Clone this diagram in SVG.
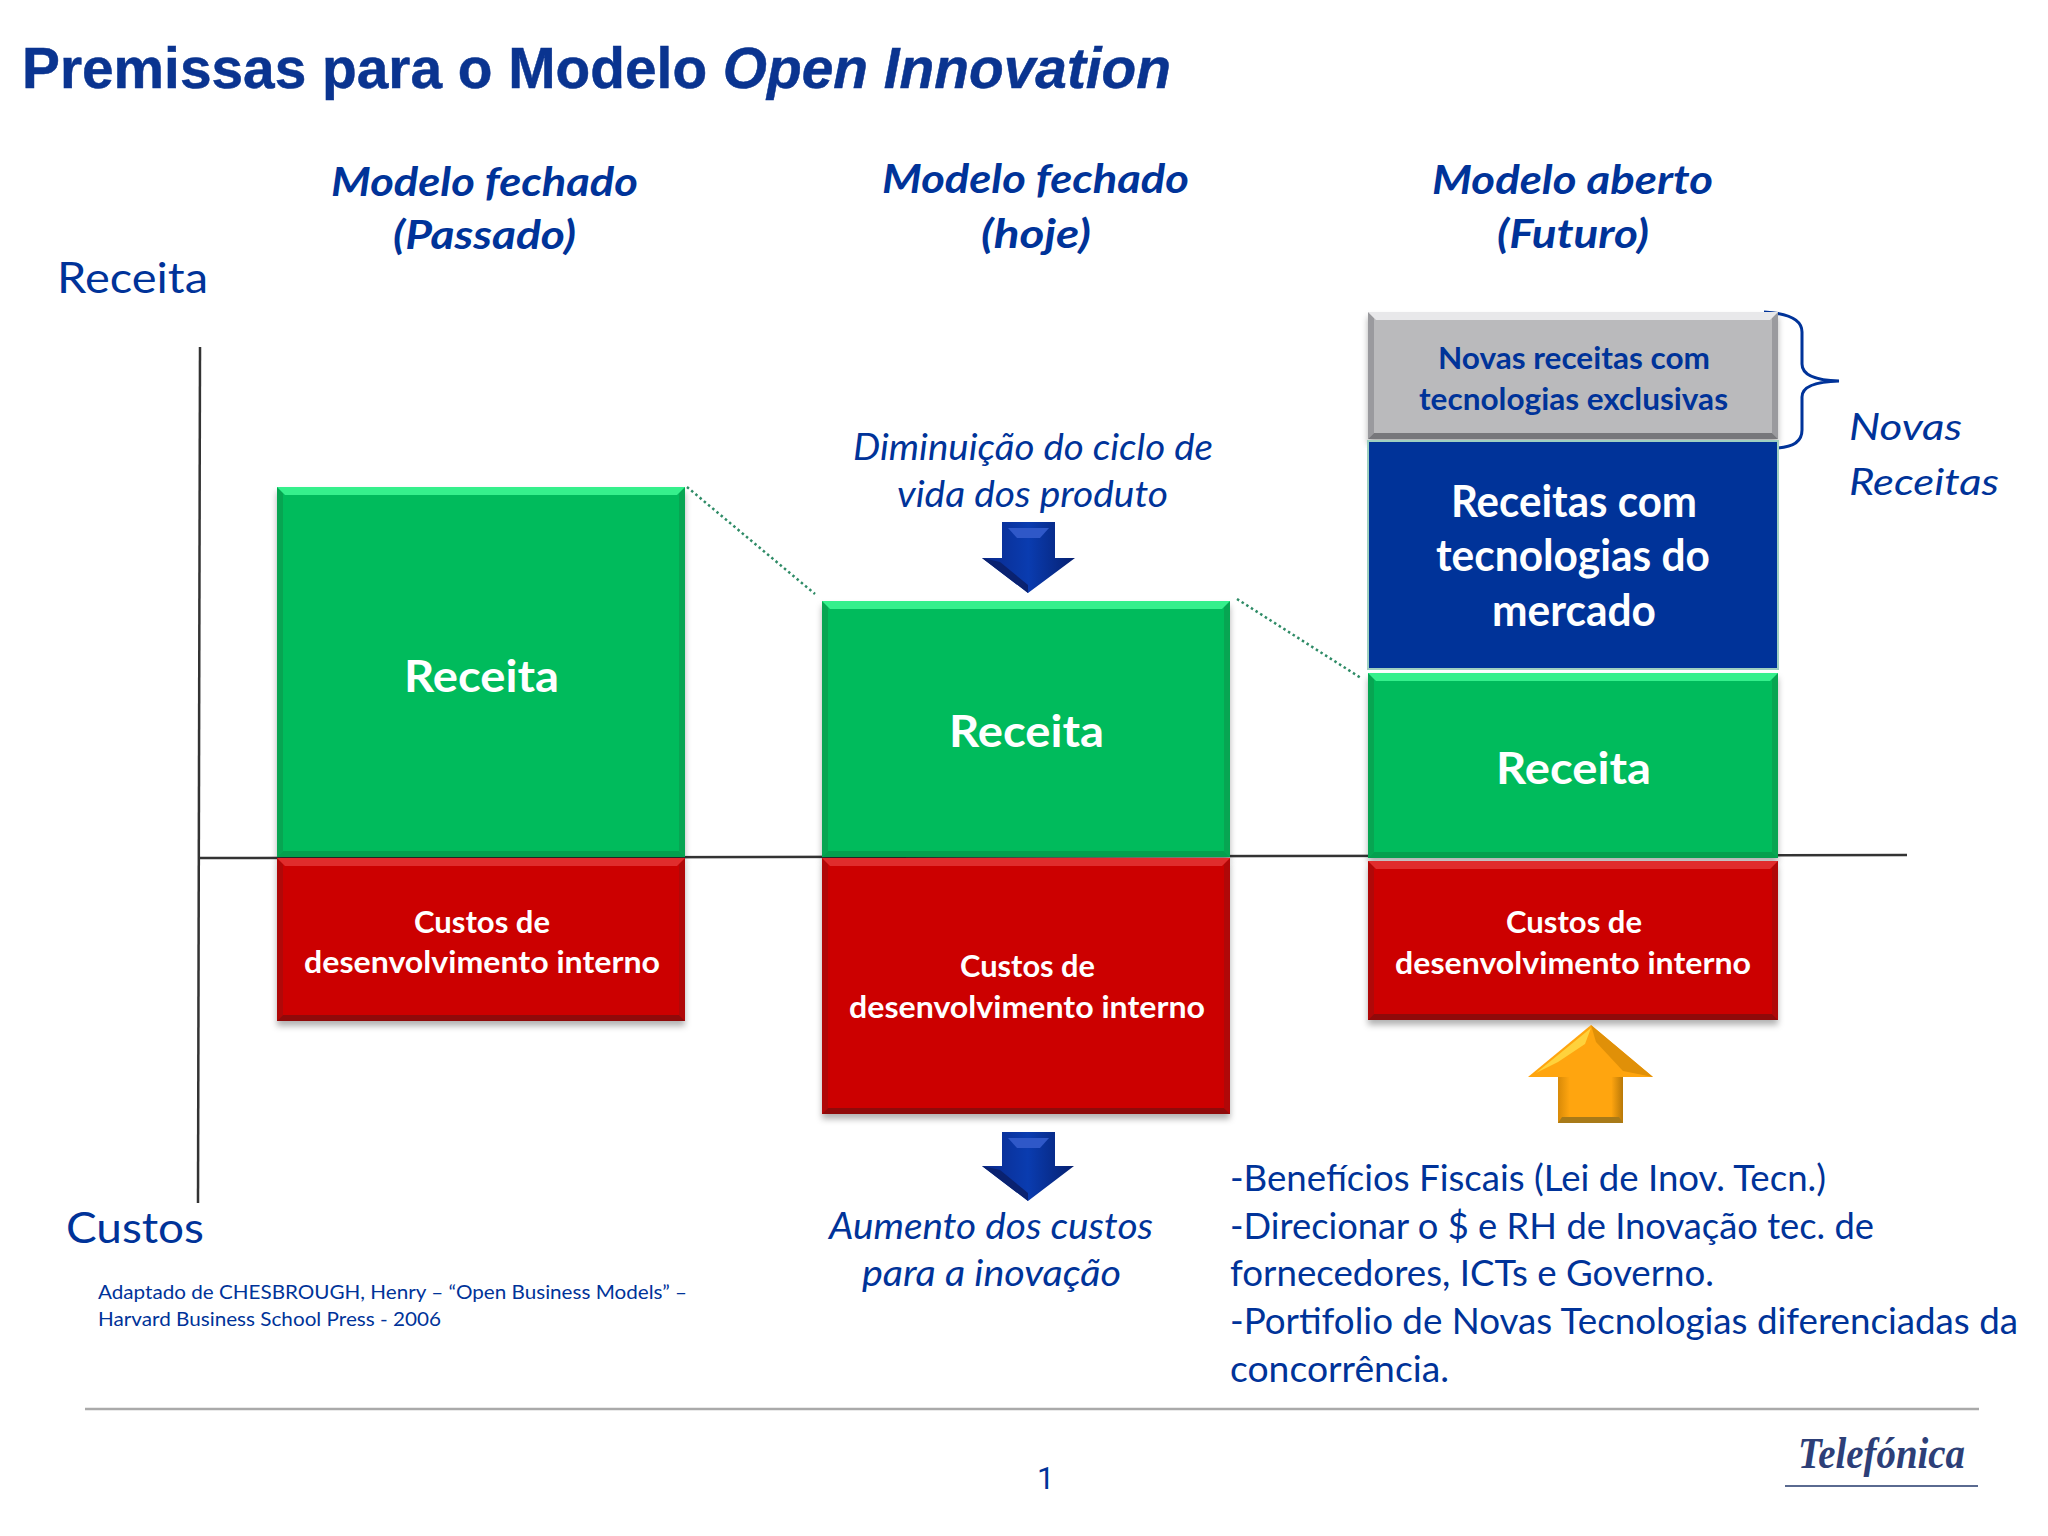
<svg xmlns="http://www.w3.org/2000/svg" width="2048" height="1536" viewBox="0 0 2048 1536">
<defs>
<filter id="sh" x="-5%" y="-5%" width="110%" height="112%"><feDropShadow dx="0" dy="5" stdDeviation="3" flood-color="#000" flood-opacity=".3"/></filter>
<linearGradient id="bl" x1="0" x2="1" y1="0" y2="0"><stop offset="0" stop-color="#0a2a8c"/><stop offset=".5" stop-color="#0a3cb0"/><stop offset="1" stop-color="#062070"/></linearGradient>
<linearGradient id="or" x1="0" x2="1" y1="0" y2="0"><stop offset="0" stop-color="#d88a08"/><stop offset=".18" stop-color="#ffa50f"/><stop offset=".82" stop-color="#ffa50f"/><stop offset="1" stop-color="#b87808"/></linearGradient>
</defs>
<style>
text{font-family:Lato,"Liberation Sans",sans-serif;fill:#003399}
.t{font-family:"Liberation Sans",Arial,sans-serif;font-weight:700;font-size:58px;fill:#0a3490;stroke:#0a3490;stroke-width:.5}
.h{font-weight:700;font-style:italic;font-size:41px}
.a{font-size:42px}
.i{font-style:italic;font-size:37px}
.b{font-size:37px}
.s{font-size:20px}
.w{fill:#fff;font-weight:700}
.r1{font-size:44px}
.r2{font-size:30px}
.g2{font-weight:700;font-size:30px}
.hg{fill:#35f08c}.hr{fill:#e02c2c}.hy{fill:#e8e8ea}
.lg{fill:#04a04e}.lr{fill:#8f0a0a}.ly{fill:#77777b}
.sg{fill:#07a552}.sr{fill:#b00808}.sy{fill:#9a9a9e}
.grn{fill:#06bb5b}.red{fill:#cc0505}.gry{fill:#bababc}.blu{fill:#003399;stroke:#9fd0c0;stroke-width:2}
.ax{fill:none;stroke:#333;stroke-width:2.5}
.dot{fill:none;stroke:#2e8b66;stroke-width:2.5;stroke-dasharray:2.5 3}
.br{fill:none;stroke:#003399;stroke-width:3}
</style>
<rect width="2048" height="1536" fill="#fff"/>
<text class="t" x="22" y="88" textLength="1149" lengthAdjust="spacingAndGlyphs">Premissas para o Modelo <tspan font-style="italic">Open Innovation</tspan></text>

<g id="connectors">
<path class="ax" d="M200 347L198 1203"/>
<path class="ax" d="M199 858L1907 855"/>
<path class="dot" d="M687 487L815 594"/>
<path class="dot" d="M1237 599L1361 678"/>
<path class="br" d="M1764 312Q1802 314 1802 332V364Q1802 380 1839 381Q1802 382 1802 397V430Q1802 447 1776 448"/>
</g>

<g id="axis-labels">
<text class="a" x="57" y="293" textLength="151" lengthAdjust="spacingAndGlyphs">Receita</text>
<text class="a" x="66" y="1243" textLength="138" lengthAdjust="spacingAndGlyphs">Custos</text>
</g>

<g id="headers">
<text class="h" x="331" y="196" textLength="307" lengthAdjust="spacingAndGlyphs">Modelo fechado</text>
<text class="h" x="393" y="249" textLength="183" lengthAdjust="spacingAndGlyphs">(Passado)</text>
<text class="h" x="882" y="193" textLength="307" lengthAdjust="spacingAndGlyphs">Modelo fechado</text>
<text class="h" x="981" y="248" textLength="110" lengthAdjust="spacingAndGlyphs">(hoje)</text>
<text class="h" x="1432" y="194" textLength="281" lengthAdjust="spacingAndGlyphs">Modelo aberto</text>
<text class="h" x="1497" y="248" textLength="152" lengthAdjust="spacingAndGlyphs">(Futuro)</text>
</g>

<g id="col1-receita">
<rect class="grn" x="277" y="487" width="408" height="370" filter="url(#sh)"/>
<polygon class="sg" points="277,487 283,493 283,851 277,857"/><polygon class="sg" points="685,487 679,493 679,851 685,857"/><polygon class="lg" points="277,857 685,857 679,851 283,851"/><polygon class="hg" points="277,487 685,487 677,495 285,495"/>
<text class="w r1" x="404" y="692" textLength="155" lengthAdjust="spacingAndGlyphs">Receita</text>
</g>
<g id="col1-custos">
<rect class="red" x="277" y="858" width="408" height="163" filter="url(#sh)"/>
<polygon class="sr" points="277,858 283,864 283,1015 277,1021"/><polygon class="sr" points="685,858 679,864 679,1015 685,1021"/><polygon class="lr" points="277,1021 685,1021 679,1015 283,1015"/><polygon class="hr" points="277,858 685,858 677,866 285,866"/>
<text class="w r2" x="414" y="933" textLength="136" lengthAdjust="spacingAndGlyphs">Custos de</text>
<text class="w r2" x="304" y="973" textLength="356" lengthAdjust="spacingAndGlyphs">desenvolvimento interno</text>
</g>

<g id="col2-receita">
<rect class="grn" x="822" y="601" width="408" height="256" filter="url(#sh)"/>
<polygon class="sg" points="822,601 828,607 828,851 822,857"/><polygon class="sg" points="1230,601 1224,607 1224,851 1230,857"/><polygon class="lg" points="822,857 1230,857 1224,851 828,851"/><polygon class="hg" points="822,601 1230,601 1222,609 830,609"/>
<text class="w r1" x="949" y="747" textLength="155" lengthAdjust="spacingAndGlyphs">Receita</text>
</g>
<g id="col2-custos">
<rect class="red" x="822" y="858" width="408" height="256" filter="url(#sh)"/>
<polygon class="sr" points="822,858 828,864 828,1108 822,1114"/><polygon class="sr" points="1230,858 1224,864 1224,1108 1230,1114"/><polygon class="lr" points="822,1114 1230,1114 1224,1108 828,1108"/><polygon class="hr" points="822,858 1230,858 1222,866 830,866"/>
<text class="w r2" x="960" y="977" textLength="135" lengthAdjust="spacingAndGlyphs">Custos de</text>
<text class="w r2" x="849" y="1018" textLength="356" lengthAdjust="spacingAndGlyphs">desenvolvimento interno</text>
</g>

<g id="col3-novas">
<rect class="gry" x="1368" y="312" width="410" height="127" filter="url(#sh)"/>
<polygon class="sy" points="1368,312 1374,318 1374,433 1368,439"/><polygon class="sy" points="1778,312 1772,318 1772,433 1778,439"/><polygon class="ly" points="1368,439 1778,439 1772,433 1374,433"/><polygon class="hy" points="1368,312 1778,312 1770,320 1376,320"/>
<text class="g2" x="1438" y="369" textLength="272" lengthAdjust="spacingAndGlyphs">Novas receitas com</text>
<text class="g2" x="1419" y="410" textLength="309" lengthAdjust="spacingAndGlyphs">tecnologias exclusivas</text>
</g>
<g id="col3-mercado">
<rect class="blu" x="1368" y="441" width="410" height="228"/>
<text class="w r1" x="1451" y="517" textLength="246" lengthAdjust="spacingAndGlyphs">Receitas com</text>
<text class="w r1" x="1436" y="571" textLength="274" lengthAdjust="spacingAndGlyphs">tecnologias do</text>
<text class="w r1" x="1492" y="626" textLength="164" lengthAdjust="spacingAndGlyphs">mercado</text>
</g>
<g id="col3-receita">
<rect class="grn" x="1368" y="673" width="410" height="185" filter="url(#sh)"/>
<polygon class="sg" points="1368,673 1374,679 1374,852 1368,858"/><polygon class="sg" points="1778,673 1772,679 1772,852 1778,858"/><polygon class="lg" points="1368,858 1778,858 1772,852 1374,852"/><polygon class="hg" points="1368,673 1778,673 1770,681 1376,681"/>
<text class="w r1" x="1496" y="784" textLength="155" lengthAdjust="spacingAndGlyphs">Receita</text>
</g>
<g id="col3-custos">
<rect class="red" x="1368" y="861" width="410" height="159" filter="url(#sh)"/>
<polygon class="sr" points="1368,861 1374,867 1374,1014 1368,1020"/><polygon class="sr" points="1778,861 1772,867 1772,1014 1778,1020"/><polygon class="lr" points="1368,1020 1778,1020 1772,1014 1374,1014"/><polygon class="hr" points="1368,861 1778,861 1770,869 1376,869"/>
<text class="w r2" x="1506" y="933" textLength="136" lengthAdjust="spacingAndGlyphs">Custos de</text>
<text class="w r2" x="1395" y="974" textLength="356" lengthAdjust="spacingAndGlyphs">desenvolvimento interno</text>
</g>

<g id="arrow-top">
<polygon fill="url(#bl)" points="1002,522 1055,522 1055,558 1075,558 1028,593 982,558 1002,558"/>
<polygon fill="#2f58c8" points="1008,528 1049,528 1040,538 1017,538"/>
<polygon fill="#0a2270" points="982,558 1000,562 1028,585 1028,593"/>
</g>
<g id="arrow-bottom">
<polygon fill="url(#bl)" points="1002,1132 1055,1132 1055,1166 1074,1166 1028,1201 982,1166 1002,1166"/>
<polygon fill="#2f58c8" points="1008,1138 1049,1138 1040,1148 1017,1148"/>
<polygon fill="#0a2270" points="982,1166 1000,1170 1028,1193 1028,1201"/>
</g>
<g id="arrow-up">
<polygon fill="url(#or)" points="1558,1077 1623,1077 1623,1123 1558,1123"/>
<polygon fill="#ffa50f" points="1591,1025 1653,1077 1528,1077"/>
<polygon fill="#e09008" points="1591,1025 1653,1077 1623,1071 1596,1042"/>
<polygon fill="#ffd23c" points="1591,1028 1585,1044 1558,1062 1536,1073"/>
<polygon fill="#a87a18" points="1562,1117 1619,1117 1623,1123 1558,1123"/>
</g>

<g id="labels">
<text class="i" x="1849" y="440" textLength="113" lengthAdjust="spacingAndGlyphs">Novas</text>
<text class="i" x="1849" y="495" textLength="150" lengthAdjust="spacingAndGlyphs">Receitas</text>
<text class="i" x="853" y="460" textLength="360" lengthAdjust="spacingAndGlyphs">Diminuição do ciclo de</text>
<text class="i" x="897" y="507" textLength="271" lengthAdjust="spacingAndGlyphs">vida dos produto</text>
<text class="i" x="829" y="1239" textLength="324" lengthAdjust="spacingAndGlyphs">Aumento dos custos</text>
<text class="i" x="862" y="1286" textLength="259" lengthAdjust="spacingAndGlyphs">para a inovação</text>
</g>

<g id="beneficios">
<text class="b" x="1230" y="1191" textLength="596" lengthAdjust="spacingAndGlyphs">-Benefícios Fiscais (Lei de Inov. Tecn.)</text>
<text class="b" x="1230" y="1239" textLength="644" lengthAdjust="spacingAndGlyphs">-Direcionar o $ e RH de Inovação tec. de</text>
<text class="b" x="1230" y="1286" textLength="484" lengthAdjust="spacingAndGlyphs">fornecedores, ICTs e Governo.</text>
<text class="b" x="1230" y="1334" textLength="788" lengthAdjust="spacingAndGlyphs">-Portifolio de Novas Tecnologias diferenciadas da</text>
<text class="b" x="1230" y="1382" textLength="219" lengthAdjust="spacingAndGlyphs">concorrência.</text>
</g>

<g id="source">
<text class="s" x="98" y="1299" textLength="589" lengthAdjust="spacingAndGlyphs">Adaptado de CHESBROUGH, Henry – “Open Business Models” –</text>
<text class="s" x="98" y="1326" textLength="343" lengthAdjust="spacingAndGlyphs">Harvard Business School Press - 2006</text>
</g>

<g id="footer">
<line x1="85" y1="1409" x2="1979" y2="1409" stroke="#aaa" stroke-width="2.5"/>
<text x="1037" y="1489" style="font-family:Roboto,'Liberation Sans',sans-serif;font-size:31px">1</text>
<text x="1798" y="1468" textLength="167" lengthAdjust="spacingAndGlyphs" style="font-family:'Liberation Serif',serif;font-style:italic;font-weight:700;font-size:44px;fill:#2d3f78">Telefónica</text>
<line x1="1785" y1="1486" x2="1978" y2="1486" stroke="#5a6a90" stroke-width="2"/>
</g>
</svg>
